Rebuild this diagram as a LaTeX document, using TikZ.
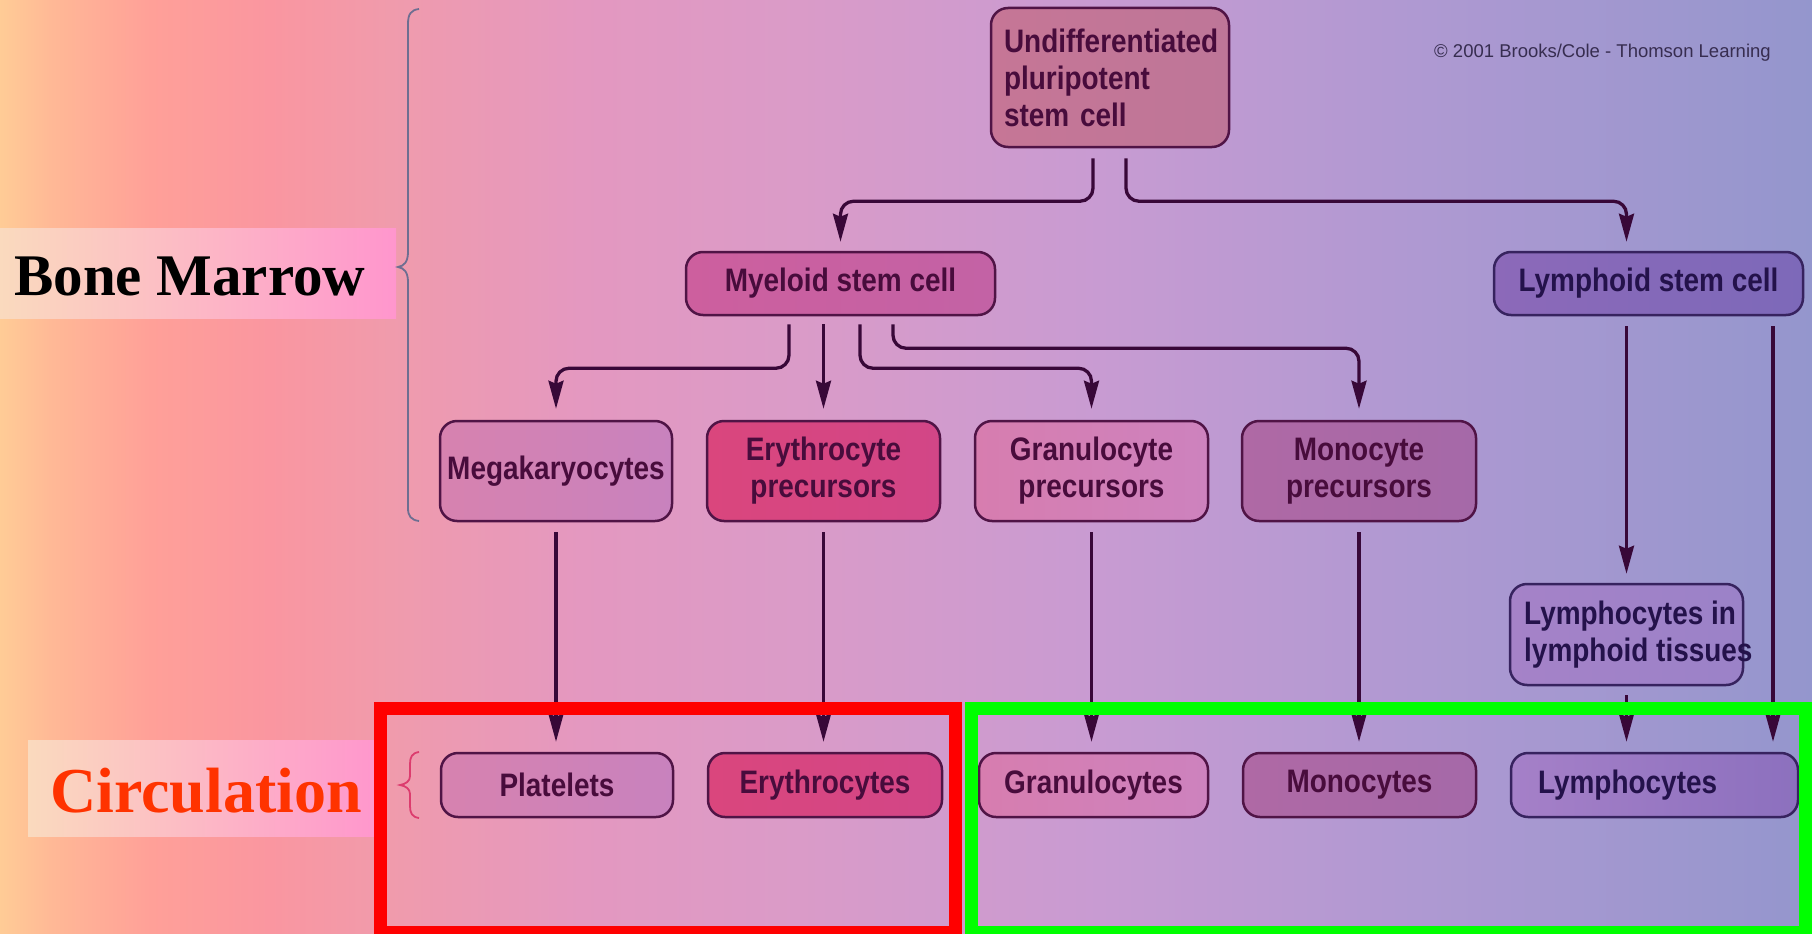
\documentclass[tikz,border=0pt]{standalone}
\usepackage{fontspec}
\setmainfont{Liberation Serif}
\newfontfamily\cellfont[FakeStretch=0.86,BoldFeatures={FakeStretch=0.86}]{Liberation Sans}
\newfontfamily\notefont{Liberation Sans}
\usetikzlibrary{arrows.meta,calc}

% background stops
\definecolor{bg0}{RGB}{255,204,150}
\definecolor{bg1}{RGB}{255,185,150}
\definecolor{bg2}{RGB}{255,160,152}
\definecolor{bg3}{RGB}{250,150,160}
\definecolor{bg4}{RGB}{240,155,172}
\definecolor{bg5}{RGB}{228,152,192}
\definecolor{bg6}{RGB}{218,155,200}
\definecolor{bg7}{RGB}{200,155,210}
\definecolor{bg8}{RGB}{176,153,210}
\definecolor{bg9}{RGB}{148,150,205}
% label boxes
\definecolor{lblL}{RGB}{250,218,190}
\definecolor{lblR}{RGB}{255,150,205}
\definecolor{circred}{RGB}{255,51,0}
% cells
\definecolor{bord}{RGB}{80,20,70}
\definecolor{txt}{RGB}{72,12,60}
\definecolor{lbord}{RGB}{55,35,95}
\definecolor{ltxt}{RGB}{36,18,75}
\definecolor{arrc}{RGB}{56,8,56}
\definecolor{bracec}{RGB}{110,110,145}
\definecolor{cbracec}{RGB}{220,60,110}
\definecolor{notec}{RGB}{55,45,80}
\definecolor{boxgreen}{RGB}{0,255,0}
\definecolor{boxred}{RGB}{255,0,0}

\definecolor{undL}{RGB}{198,118,150}\definecolor{undR}{RGB}{190,118,152}
\definecolor{myeL}{RGB}{205,95,158}\definecolor{myeR}{RGB}{195,98,165}
\definecolor{lymL}{RGB}{140,105,185}\definecolor{lymR}{RGB}{125,105,185}
\definecolor{megL}{RGB}{215,130,175}\definecolor{megR}{RGB}{200,130,190}
\definecolor{eryL}{RGB}{218,70,125}\definecolor{eryR}{RGB}{210,70,135}
\definecolor{graL}{RGB}{215,125,175}\definecolor{graR}{RGB}{205,130,190}
\definecolor{monL}{RGB}{175,105,165}\definecolor{monR}{RGB}{165,105,168}
\definecolor{ltL}{RGB}{165,130,200}\definecolor{ltR}{RGB}{155,130,200}
\definecolor{lyL}{RGB}{165,128,200}\definecolor{lyR}{RGB}{140,112,190}

\begin{document}
\begin{tikzpicture}[x=1pt,y=-1pt,
  cell/.style={rounded corners=17pt, draw=bord, line width=2.5pt,
    font=\cellfont\bfseries\fontsize{32.5}{37}\selectfont, text=txt,
    inner sep=0pt, align=center},
  lcell/.style={cell, draw=lbord, text=ltxt},
  celltext/.style={font=\cellfont\bfseries\fontsize{32.5}{37}\selectfont,
    text=ltxt, inner sep=0pt, align=left},
  arr/.style={draw=arrc, line width=3.3pt, rounded corners=13pt,
    -{Stealth[length=28pt,width=15pt,inset=3pt]}},
  lblbox/.style={left color=lblL, right color=lblR, draw=none, inner sep=0pt},
]
\useasboundingbox (0,0) rectangle (1812,934);
\clip (0,0) rectangle (1812,934);

% background gradient, built from adjacent bands
\foreach \a/\b/\ca/\cb in {0/50/bg0/bg1, 50/150/bg1/bg2, 150/270/bg2/bg3,
    270/390/bg3/bg4, 390/580/bg4/bg5, 580/800/bg5/bg6, 800/1100/bg6/bg7,
    1100/1400/bg7/bg8, 1400/1812/bg8/bg9}
  \shade[left color=\ca, right color=\cb] (\a-0.6,0) rectangle (\b+0.6,934);

% region labels
\node[lblbox, minimum width=396pt, minimum height=90pt] (bmbox) at (198,273) {};
\node[anchor=base west, inner sep=0pt, font=\bfseries\fontsize{59}{59}\selectfont]
  (bmtext) at (14,295) {Bone Marrow};
\node[lblbox, minimum width=352pt, minimum height=96pt] (cbox) at (204,788) {};
\node[anchor=base west, inner sep=0pt, text=circred,
  font=\bfseries\fontsize{64}{64}\selectfont] (ctext) at (50,812) {Circulation};

% braces
\draw[bracec, line width=1.8pt]
  (419,9) .. controls (411,10) and (408,14) .. (408,24) -- (408,252)
  .. controls (408,262) and (404,266) .. (398,267)
  .. controls (404,268) and (408,272) .. (408,282) -- (408,508)
  .. controls (408,516) and (411,520) .. (419,521);
\draw[cbracec, line width=1.8pt]
  (419,752) .. controls (412,753) and (410,757) .. (410,764) -- (410,776)
  .. controls (410,781) and (406,784) .. (400,785)
  .. controls (406,786) and (410,789) .. (410,794) -- (410,806)
  .. controls (410,813) and (412,817) .. (419,818);

% cells
\node[cell, minimum width=238pt, minimum height=139pt, text width=212pt,
  align=left, left color=undL, right color=undR] (undiff) at (1110,77.5)
  {Undifferentiated\\pluripotent\\stem cell};
\node[cell, minimum width=309pt, minimum height=63pt,
  left color=myeL, right color=myeR] (myeloid) at (840.5,283.5) {Myeloid stem cell};
\node[lcell, minimum width=309pt, minimum height=63pt,
  left color=lymL, right color=lymR] (lymphoid) at (1648.5,283.5) {Lymphoid stem cell};

\node[cell, minimum width=232pt, minimum height=100pt,
  left color=megL, right color=megR] (mega) at (556,471) {Megakaryocytes};
\node[cell, minimum width=233pt, minimum height=100pt,
  left color=eryL, right color=eryR] (eryp) at (823.5,471) {Erythrocyte\\precursors};
\node[cell, minimum width=233pt, minimum height=100pt,
  left color=graL, right color=graR] (granp) at (1091.5,471) {Granulocyte\\precursors};
\node[cell, minimum width=234pt, minimum height=100pt,
  left color=monL, right color=monR] (monop) at (1359,471) {Monocyte\\precursors};
\node[lcell, minimum width=233pt, minimum height=101pt,
  left color=ltL, right color=ltR] (lymt) at (1626.5,634.5) {};
\node[celltext, anchor=west] (lymtt) at (1524,634.5) {Lymphocytes in\\lymphoid tissues};

\node[cell, minimum width=232pt, minimum height=64pt,
  left color=megL, right color=megR] (plate) at (557,785) {Platelets};
\node[cell, minimum width=234pt, minimum height=64pt,
  left color=eryL, right color=eryR] (ery) at (825,785) {Erythrocytes};
\node[cell, minimum width=229pt, minimum height=64pt,
  left color=graL, right color=graR] (gran) at (1093.5,785) {Granulocytes};
\node[cell, minimum width=233pt, minimum height=64pt,
  left color=monL, right color=monR] (mono) at (1359.5,785) {Monocytes};
\node[lcell, minimum width=287pt, minimum height=64pt, text width=233pt,
  align=left, left color=lyL, right color=lyR] (lymph) at (1654.5,785) {Lymphocytes};

% lineage connectors
\draw[arr] ($(undiff.south)+(-17,10)$) -- ++(0,43) -| ($(myeloid.north)+(0,-9)$);
\draw[arr] ($(undiff.south)+(16,10)$) -- ++(0,43) -| ($(lymt.north |- lymphoid.north)+(0,-9)$);

\draw[arr] ($(myeloid.south)+(-51.5,8)$) -- ++(0,44) -| ($(mega.north)+(0,-11)$);
\draw[arr] ($(eryp.north |- myeloid.south)+(0,8)$) -- ($(eryp.north)+(0,-11)$);
\draw[arr] ($(myeloid.south)+(19.5,8)$) -- ++(0,44) -| ($(granp.north)+(0,-11)$);
\draw[arr] ($(myeloid.south)+(52.5,8)$) -- ++(0,24) -| ($(monop.north)+(0,-11)$);

\draw[arr] ($(lymt.north |- lymphoid.south)+(0,10)$) -- ($(lymt.north)+(0,-9)$);
\draw[arr] ($(lymphoid.south)+(124.5,10)$) -- ($(lymph.north)+(118.5,-10)$);
\draw[arr] ($(lymt.south)+(0,9)$) -- ($(lymt.south |- lymph.north)+(0,-10)$);

\draw[arr] ($(mega.south)+(0,10)$) -- ($(mega.south |- plate.north)+(0,-10)$);
\draw[arr] ($(eryp.south)+(0,10)$) -- ($(eryp.south |- ery.north)+(0,-10)$);
\draw[arr] ($(granp.south)+(0,10)$) -- ($(granp.south |- gran.north)+(0,-10)$);
\draw[arr] ($(monop.south)+(0,10)$) -- ($(monop.south |- mono.north)+(0,-10)$);

% grouping frames
\draw[boxred, line width=13pt] (380.5,708) rectangle (955.5,932);
\draw[boxgreen, line width=13pt] (971.5,708) rectangle (1805,932);

% credit line
\node[anchor=base west, inner sep=0pt, text=notec,
  font=\notefont\fontsize{18.5}{20}\selectfont] (credit) at (1434,58)
  {© 2001 Brooks/Cole - Thomson Learning};
\end{tikzpicture}
\end{document}
